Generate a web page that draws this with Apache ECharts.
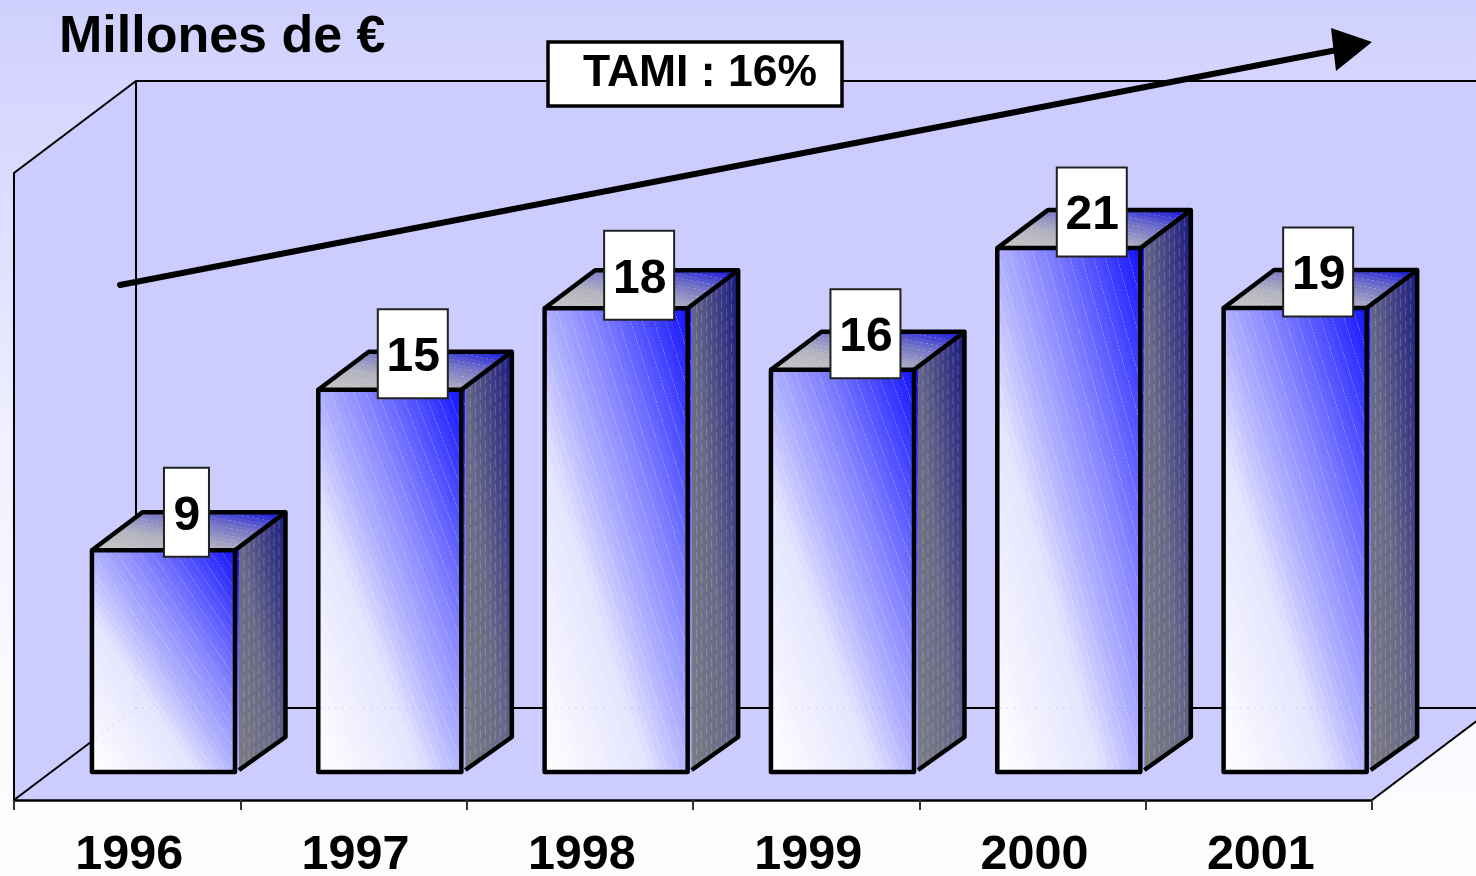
<!DOCTYPE html>
<html><head><meta charset="utf-8">
<style>html,body{margin:0;padding:0;background:#fff}#c{width:1476px;height:876px}</style>
<script src="https://cdn.jsdelivr.net/npm/echarts@6/dist/echarts.min.js"></script>
</head><body><div id="c"></div>
<script>
const categories = ['1996','1997','1998','1999','2000','2001'];
const values = [8.84, 15.24, 18.49, 16.04, 20.89, 18.5];
const valueLabels = ['9','15','18','16','21','19'];
const unitTitle = 'Millones de €';
const growthLabel = 'TAMI : 16%';

const FONT = '"Liberation Sans", Arial, sans-serif';
const labelNudge = [-2, 0, 3, 0, 0, 0];
const WALL_DX = 122, WALL_DY = 92;      // floor depth of the 3D box
const PLANE_DY = 28, PLANE_DX = 36.3;   // bars stand behind the axis plane
const BAR_DX = 50.5, BAR_DY = 38;       // depth of a bar

function ramp(a, b, t){
  return 'rgb(' + a.map((c,i)=>Math.round(c+(b[i]-c)*t)).join(',') + ')';
}
// bands with hairline lighter seams, like the stepped fill of the original
function bandStops(stops, n, seam){
  const out = [];
  const col = t => {
    let k = 0;
    while (k < stops.length-2 && t > stops[k+1][0]) k++;
    const s = stops[k], e = stops[k+1];
    return ramp(s[1], e[1], (t-s[0])/(e[0]-s[0]));
  };
  for (let i=0;i<n;i++){
    const a=i/n, b=(i+1)/n, c=col((a+b)/2);
    out.push({offset:a,color:c});
    if (seam>0 && i%2===0){
      out.push({offset:b-seam,color:c});
      const rgb = c.match(/\d+/g).map(Number);
      const lt = 'rgb('+rgb.map(v=>Math.round(v+(255-v)*0.2)).join(',')+')';
      out.push({offset:b-seam,color:lt});
      out.push({offset:b,color:lt});
    } else out.push({offset:b,color:c});
  }
  return out;
}
// Gradient running bottom-left to top-right whose iso-lines follow the other diagonal of the box
function skewGrad(x,y,w,h,colorStops){
  const cx=x+w/2, cy=y+h/2, d=Math.hypot(w,h);
  const ux=h/d, uy=-w/d, L=w*h/d;
  return {type:'linear',global:true,x:cx-ux*L,y:cy-uy*L,x2:cx+ux*L,y2:cy+uy*L,colorStops};
}
const frontStops = bandStops([
  [0,[255,255,255]],[0.35,[228,228,255]],[0.5,[176,176,255]],[0.67,[128,128,255]],[0.82,[78,78,255]],[1,[16,16,255]]
], 50, 0.0025);
const sideStops  = bandStops([[0,[124,124,132]],[0.45,[104,104,136]],[1,[24,24,128]]], 30, 0);
const topStops   = bandStops([[0,[200,200,200]],[0.35,[178,178,192]],[0.7,[110,110,200]],[1,[16,16,224]]], 20, 0.004);

function renderWalls(params, api){
  const cs = params.coordSys;
  const fx = cs.x, fy = cs.y + cs.height + PLANE_DY;        // front-left floor corner
  const rx = cs.x + cs.width;                               // front-right floor corner
  const bx = fx + WALL_DX, by = fy - WALL_DY;               // back-left floor corner
  const H = cs.height;
  const wall = '#ccccff', line = {stroke:'#000',lineWidth:2,fill:null};
  const ext = rx + WALL_DX;
  return {type:'group',children:[
    {type:'polygon',shape:{points:[[bx,by-H],[ext,by-H],[ext,by],[bx,by]]},style:{fill:wall}},
    {type:'polygon',shape:{points:[[fx,fy-H],[bx,by-H],[bx,by],[fx,fy]]},style:{fill:wall}},
    {type:'polygon',shape:{points:[[fx,fy],[bx,by],[ext,by],[rx,fy]]},style:{fill:wall}},
    {type:'polyline',shape:{points:[[fx,fy],[fx,fy-H],[bx,by-H],[ext,by-H]]},style:line},
    {type:'polyline',shape:{points:[[bx,by-H],[bx,by],[ext,by]]},style:line},
    {type:'line',shape:{x1:fx,y1:fy,x2:bx,y2:by},style:{stroke:'#000',lineWidth:2}},
    {type:'line',shape:{x1:rx,y1:fy,x2:ext,y2:by},style:{stroke:'#000',lineWidth:2}}
  ]};
}

function renderBar(params, api){
  const i = api.value(0), v = api.value(1);
  const cs = params.coordSys;
  const top = api.coord([i, v]), base = api.coord([i, 0]);
  const w = api.size([1,0])[0] * 0.632;
  const L = top[0] + PLANE_DX - w/2, R = L + w, T = top[1], B = base[1];
  const h = B - T;
  const ink = {stroke:'#000',lineWidth:4.5,lineJoin:'round',fill:null};
  const S = R + 4;   // side face starts just off the front edge
  const kids = [
    {type:'rect',shape:{x:L,y:T,width:w+4,height:h},style:{fill:skewGrad(L,T,w+4,h,frontStops)}},
    {type:'polygon',shape:{points:[[S,T-2],[R+BAR_DX,T-BAR_DY],[R+BAR_DX,B-BAR_DY+3],[S,B-2]]},
      style:{fill:skewGrad(S,T-BAR_DY,BAR_DX-3,h+BAR_DY,sideStops)}},
    {type:'polygon',shape:{points:[[L,T],[L+BAR_DX,T-BAR_DY],[R+BAR_DX,T-BAR_DY],[R,T]]},
      style:{fill:skewGrad(L,T-BAR_DY,w+BAR_DX,BAR_DY,topStops)}}
  ];
  // faint dashes of the stepped fill on the side face
  for (let k=1;k<9;k++){
    const x = S + (BAR_DX-3)*k/9.5;
    const f = (x-R)/BAR_DX;
    kids.push({type:'line',shape:{x1:x,y1:T-BAR_DY*f+3,x2:x,y2:B-BAR_DY*f},
      style:{stroke:'rgba(255,255,255,0.2)',lineWidth:1,lineDash:[9,4]}});
  }
  // wall edges faintly showing through the bar
  const bx = cs.x + WALL_DX, by = cs.y + cs.height + PLANE_DY - WALL_DY;
  const dots = {stroke:'rgba(50,50,90,0.26)',lineWidth:1,lineDash:[1,6]};
  kids.push({type:'line',shape:{x1:Math.max(L+3,bx),y1:by,x2:R+BAR_DX-2,y2:by},style:dots});
  if (L < bx && R > bx){
    kids.push({type:'line',shape:{x1:bx,y1:T+3,x2:bx,y2:by},style:dots});
    const t = (bx-L-3)/WALL_DX;
    kids.push({type:'line',shape:{x1:bx,y1:by,x2:L+3,y2:by+WALL_DY*t},style:dots});
  }
  kids.push(
    {type:'polyline',shape:{points:[[L,T],[L+BAR_DX,T-BAR_DY],[R+BAR_DX,T-BAR_DY],[R+BAR_DX,B-BAR_DY+3],[S,B-2]]},style:ink},
    {type:'line',shape:{x1:R,y1:T,x2:R+BAR_DX,y2:T-BAR_DY},style:{stroke:'#000',lineWidth:4.5}},
    {type:'rect',shape:{x:L,y:T,width:w,height:h},style:ink}
  );
  // value tag
  const txt = valueLabels[params.dataIndex];
  const bw = 20 + 25*txt.length, bh = 89;
  const cx = L + w/2 + 23, cy = T - 36 + labelNudge[params.dataIndex];
  kids.push(
    {type:'rect',shape:{x:cx-bw/2,y:cy-bh/2,width:bw,height:bh},style:{fill:'#fff',stroke:'#222',lineWidth:2}},
    {type:'text',style:{text:txt,x:cx+0.5,y:cy+4,fill:'#000',font:'bold 48px '+FONT,align:'center',verticalAlign:'middle'}}
  );
  return {type:'group',children:kids};
}

const chart = echarts.init(document.getElementById('c'), null, {renderer:'canvas'});
chart.setOption({
  animation:false,
  backgroundColor:{type:'linear',x:0,y:0,x2:0,y2:1,colorStops:[
    {offset:0,color:'#d0d0fe'},{offset:0.15,color:'#d8d8ff'},{offset:0.35,color:'#e4e4ff'},{offset:0.5,color:'#f0f0ff'},{offset:0.8,color:'#fafaff'},{offset:1,color:'#fdfdff'}]},
  grid:{left:14,right:104,top:145,bottom:104,containLabel:false,outerBoundsMode:'none'},
  xAxis:{type:'category',data:categories,offset:PLANE_DY,z:5,
    axisLine:{show:true,onZero:false,lineStyle:{color:'#000',width:2.5}},
    axisTick:{show:true,length:10,lineStyle:{color:'#333',width:2}},
    axisLabel:{color:'#000',fontFamily:FONT,fontWeight:'bold',fontSize:48.5,margin:31,padding:[0,0,0,4]},
    splitLine:{show:false}},
  yAxis:{type:'value',min:0,max:25,show:false,splitLine:{show:false}},
  series:[
    {type:'custom',z:1,silent:true,data:[[0,0]],renderItem:renderWalls,encode:{x:0,y:1}},
    {type:'custom',z:6,silent:true,data:values.map((v,i)=>[i,v]),renderItem:renderBar,encode:{x:0,y:1}}
  ],
  graphic:[
    {type:'text',z:20,left:59,top:12,style:{text:unitTitle,fill:'#000',font:'bold 52px '+FONT}},
    {type:'line',z:20,shape:{x1:120,y1:285,x2:1342,y2:49},style:{stroke:'#000',lineWidth:6,lineCap:'round'}},
    {type:'polygon',z:20,shape:{points:[[1372,42],[1331,28],[1336,71]]},style:{fill:'#000'}},
    {type:'rect',z:21,shape:{x:548,y:42,width:294,height:64},style:{fill:'#fff',stroke:'#000',lineWidth:3.5}},
    {type:'text',z:22,left:583,top:51,style:{text:growthLabel,fill:'#000',font:'bold 44.5px '+FONT}}
  ]
});
</script></body></html>
